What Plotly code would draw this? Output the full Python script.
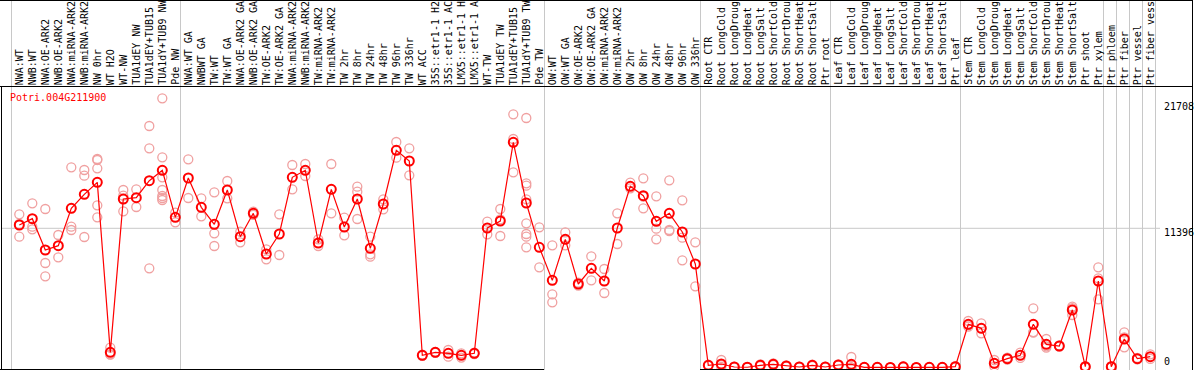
import plotly.graph_objects as go

labels = [
    "NWA:WT", "NWB:WT", "NWA:OE-ARK2", "NWB:OE-ARK2", "NWA:miRNA-ARK2", "NWB:miRNA-ARK2",
    "NW 0hr", "WT H2O", "WT-NW", "TUA1dEY NW", "TUA1dEY+TUB15", "TUA1dY+TUB9 NW", "Pde NW",
    "NWA:WT GA", "NWBWT GA", "TW:WT", "TW:WT GA", "NWA:OE-ARK2 GA", "NWB:OE-ARK2 GA",
    "TW:OE-ARK2", "TW:OE-ARK2 GA", "NWA:miRNA-ARK2", "NWB:miRNA-ARK2", "TW:miRNA-ARK2",
    "TW:miRNA-ARK2", "TW 2hr", "TW 8hr", "TW 24hr", "TW 48hr", "TW 96hr", "TW 336hr",
    "WT ACC", "35S::etr1-1 H2", "35S::etr1-1 AC", "LMX5::etr1-1 H", "LMX5::etr1-1 A",
    "WT-TW", "TUA1dEY TW", "TUA1dEY+TUB15", "TUA1dY+TUB9 TW", "Pde TW",
    "OW:WT", "OW:WT GA", "OW:OE-ARK2", "OW:OE-ARK2 GA", "OW:miRNA-ARK2", "OW:miRNA-ARK2",
    "OW 2hr", "OW 8hr", "OW 24hr", "OW 48hr", "OW 96hr", "OW 336hr",
    "Root CTR", "Root LongCold", "Root LongDroug", "Root LongHeat", "Root LongSalt",
    "Root ShortCold", "Root ShortDrou", "Root ShortHeat", "Root ShortSalt", "Ptr root",
    "Leaf CTR", "Leaf LongCold", "Leaf LongDroug", "Leaf LongHeat", "Leaf LongSalt",
    "Leaf ShortCold", "Leaf ShortDrou", "Leaf ShortHeat", "Leaf ShortSalt", "Ptr leaf",
    "Stem CTR", "Stem LongCold", "Stem LongDroug", "Stem LongHeat", "Stem LongSalt",
    "Stem ShortCold", "Stem ShortDrou", "Stem ShortHeat", "Stem ShortSalt", "Ptr shoot",
    "Ptr xylem", "Ptr phloem", "Ptr fiber", "Ptr vessel", "Ptr fiber vess",
]

means = [
    11666, 12185, 9620, 9975, 13030, 14177, 15160, 1241, 13795, 13903, 15296, 16142, 12295,
    15514, 13112, 11721, 14532, 10710, 12622, 9292, 10930, 15568, 16142, 10193, 14587,
    11503, 13795, 9755, 13385, 17780, 16906, 996, 1241, 1159, 996, 1159, 11421, 11994,
    18434, 13467, 9838,
    7135, 10494, 6836, 8118, 7082, 11421, 14832, 14068, 11967, 12622, 11093, 8473,
    177, 287, 41, 20, 177, 259, 123, 41, 177, 41,
    204, 259, 14, 14, 5, 60, 5, 14, 14, 68,
    3533, 3206, 341, 723, 996, 3533, 1896, 1760, 4708, 68, 7082,
    68, 2333, 723, 887,
]

replicates = [
    [12540, 10710, 11750], [13440, 11530, 11310], [12976, 8555, 7465], [10848, 9020],
    [16388, 11530, 11257], [16170, 15705, 10684], [17070, 16990, 16305, 13276, 12295],
    [1623, 1078, 1050], [14532, 14070, 12790], [14587, 13140], [19771, 17943, 8118],
    [22036, 17206, 15568, 14532, 14040, 13877, 13713], [12676, 11885],
    [17042, 13877], [13849, 12375], [14340, 10985, 9947], [15269, 13849], [11120, 10248],
    [12760, 12490], [9673, 8855], [12540, 9210], [16579, 14587], [16660, 15678],
    [10494, 9947], [16660, 12622], [12267, 10820], [14805, 14396, 12158],
    [10710, 9265, 9075], [13767, 12949], [18461, 17178], [17943, 15732], [1050, 950],
    [1200, 1280], [1433, 887], [1160, 810], [1100, 1220], [11940, 10903],
    [12976, 12131, 10766], [20726, 18707, 15978],
    [20426, 15077, 14887, 13767, 11803, 10930, 10710, 9838], [11478, 8200],
    [10000, 5990, 5335], [11066, 10000], [6945, 6700], [9101, 7135], [8064, 6099],
    [12622, 10111], [15132, 14668], [15487, 13986, 13030], [14013, 11366, 10494],
    [15323, 11257, 11175], [13685, 10630, 8773], [10248, 6645],
    [230, 130], [614, 200, 50], [60, 20], [30, 10], [250, 110], [330, 190], [180, 70],
    [60, 20], [230, 120], [60, 20],
    [260, 150], [860, 10, 5], [20, 8], [20, 8], [8, 2], [100, 20], [8, 2], [20, 8],
    [20, 8], [120, 16],
    [3807, 3343, 3450], [3615, 2797], [615, 100, 310], [800, 650], [1214, 780],
    [4846, 2851, 2900], [2333, 1623, 1730], [1800, 1720], [4980, 4298, 4850], [120, 16],
    [8200, 7300, 5580],
    [120, 16], [2880, 1651, 2470], [780, 660], [1078, 700],
]

group_ends = [12, 40, 52, 62, 72, 83, 84, 85, 86, 87]
y_ticks = [0, 11396, 21708]
title = "Potri.004G211900"

W, H = 1194, 370
FONT = "DejaVu Sans Mono"

xs = list(range(len(labels)))
rep_x, rep_y = [], []
for i, reps in enumerate(replicates):
    for v in reps:
        rep_x.append(i)
        rep_y.append(v)

fig = go.Figure()
fig.add_trace(go.Scatter(
    x=rep_x, y=rep_y, mode="markers",
    marker=dict(symbol="circle-open", size=9, color="#f0a0a0", line=dict(width=1.3)),
    hoverinfo="skip", showlegend=False, cliponaxis=False,
))
fig.add_trace(go.Scatter(
    x=xs, y=means, mode="lines+markers",
    line=dict(color="#ff0000", width=1.2),
    marker=dict(symbol="circle-open", size=9, color="#ff0000", line=dict(width=2)),
    showlegend=False, cliponaxis=False,
))

def px(xp):
    return xp / W

def py(yp):
    return 1 - yp / H

shapes = []
for b in [-1] + group_ends:
    shapes.append(dict(type="line", xref="x", yref="paper", x0=b + 0.4, x1=b + 0.4,
                       y0=0, y1=1, line=dict(color="#c8c8c8", width=1), layer="below"))
shapes.append(dict(type="line", xref="paper", yref="y", x0=px(1), x1=px(1160),
                   y0=y_ticks[1], y1=y_ticks[1], line=dict(color="#c8c8c8", width=1),
                   layer="below"))
black = dict(color="black", width=1)
shapes.append(dict(type="line", xref="paper", yref="paper", x0=0, x1=px(1192.5),
                   y0=py(86.5), y1=py(86.5), line=black))
shapes.append(dict(type="line", xref="paper", yref="paper", x0=0, x1=px(1192.5),
                   y0=py(0.5), y1=py(0.5), line=black))
shapes.append(dict(type="line", xref="paper", yref="paper", x0=px(1192.5), x1=px(1192.5),
                   y0=0, y1=1, line=black))
shapes.append(dict(type="line", xref="paper", yref="paper", x0=px(1.5), x1=px(1.5),
                   y0=0, y1=py(86.5), line=black))
for a, b in [(0, 544), (700, 960)]:
    shapes.append(dict(type="line", xref="paper", yref="paper", x0=px(a), x1=px(b),
                       y0=py(369.5), y1=py(369.5), line=black))

annotations = []
for i, lab in enumerate(labels):
    annotations.append(dict(
        x=i, xref="x", y=py(86), yref="paper", text=lab, textangle=-90,
        xanchor="center", yanchor="bottom", showarrow=False,
        font=dict(family=FONT, size=10, color="black"), borderpad=0,
    ))
annotations.append(dict(
    x=px(9), xref="paper", y=py(97), yref="paper", text=title,
    xanchor="left", yanchor="middle", showarrow=False,
    font=dict(family=FONT, size=10, color="#ff0000"), borderpad=0,
))
for v, yc in zip(y_ticks, [361.7, 232, 106.7]):
    annotations.append(dict(
        x=px(1163), xref="paper", y=py(yc), yref="paper", text=str(v),
        xanchor="left", yanchor="middle", showarrow=False,
        font=dict(family=FONT, size=10, color="black"), borderpad=0,
    ))

a_x, b_x = 19.3, 13.0
zero_y, per_px = 367.5, 81.87
fig.update_layout(
    width=W, height=H, margin=dict(l=0, r=0, t=0, b=0),
    paper_bgcolor="white", plot_bgcolor="white",
    xaxis=dict(range=[-a_x / b_x, (W - a_x) / b_x], visible=False, fixedrange=True),
    yaxis=dict(range=[-(H - zero_y) * per_px, zero_y * per_px], visible=False,
               fixedrange=True),
    shapes=shapes, annotations=annotations, hovermode=False,
)
fig.write_html(
    "out.html",
    config={"displayModeBar": False, "staticPlot": True},
    post_script="document.body.style.margin='0';document.body.style.overflow='hidden';",
)
